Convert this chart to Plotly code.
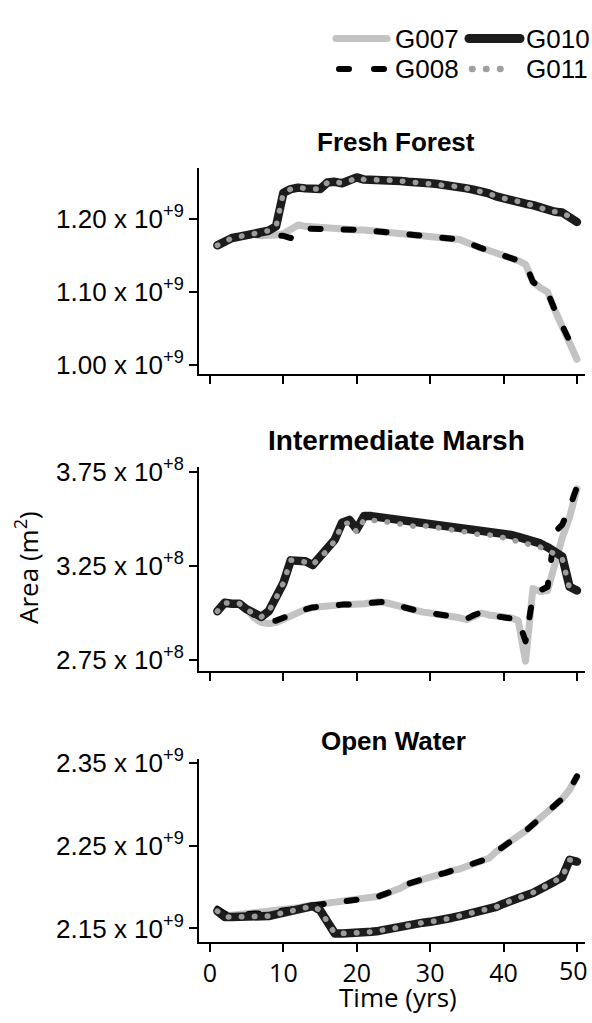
import plotly.graph_objects as go

# ---------------- data ----------------
years = list(range(1, 51))

# Fresh Forest (x 1e9 m2)
ff_g007 = [1.164,1.170,1.174,1.176,1.178,1.179,1.177,1.177,1.178,1.180,
           1.185,1.192,1.190,1.189,1.189,1.188,1.188,1.187,1.186,1.185,
           1.185,1.184,1.183,1.182,1.182,1.181,1.180,1.179,1.178,1.177,
           1.176,1.175,1.174,1.172,1.168,1.163,1.160,1.157,1.154,1.151,
           1.148,1.143,1.138,1.114,1.106,1.100,1.075,1.052,1.030,1.008]
ff_g008 = [1.164,1.170,1.174,1.176,1.178,1.179,1.178,1.178,1.178,1.177,
           1.174,1.184,1.187,1.187,1.187,1.187,1.187,1.186,1.186,1.185,
           1.185,1.184,1.183,1.182,1.182,1.181,1.180,1.179,1.178,1.177,
           1.176,1.175,1.174,1.172,1.168,1.163,1.160,1.157,1.154,1.151,
           1.148,1.143,1.138,1.114,1.106,1.100,1.075,1.053,1.033,1.016]
ff_g010 = [1.164,1.170,1.174,1.176,1.178,1.180,1.182,1.184,1.190,1.236,
           1.241,1.243,1.242,1.241,1.241,1.250,1.251,1.249,1.252,1.257,
           1.254,1.254,1.253,1.253,1.253,1.252,1.251,1.251,1.250,1.249,
           1.248,1.247,1.246,1.244,1.242,1.240,1.238,1.235,1.231,1.228,
           1.226,1.224,1.221,1.219,1.216,1.211,1.210,1.209,1.203,1.196]
ff_g011 = list(ff_g010)

# Intermediate Marsh (x 1e8 m2)
im_g007 = [3.01,3.05,3.05,3.05,3.02,2.975,2.95,2.945,2.95,2.97,
           2.99,3.01,3.02,3.03,3.035,3.04,3.04,3.045,3.045,3.045,
           3.05,3.055,3.06,3.055,3.045,3.035,3.02,3.01,3.005,3.0,
           2.995,2.99,2.985,2.975,2.965,2.985,3.0,2.99,2.985,2.98,
           2.975,2.96,2.745,3.13,3.115,3.12,3.27,3.40,3.51,3.66]
im_g008 = [3.01,3.05,3.05,3.05,3.02,2.99,2.975,2.96,2.96,2.975,
           2.995,3.01,3.02,3.03,3.035,3.04,3.045,3.045,3.045,3.045,
           3.05,3.055,3.06,3.06,3.045,3.035,3.02,3.01,3.005,3.0,
           2.995,2.99,2.985,2.975,2.97,2.99,3.005,2.99,2.985,2.98,
           2.975,2.965,2.85,3.09,3.12,3.14,3.43,3.47,3.56,3.67]
im_g010 = [3.01,3.055,3.05,3.05,3.02,2.995,2.98,3.01,3.08,3.16,
           3.28,3.28,3.275,3.255,3.30,3.33,3.39,3.48,3.495,3.445,
           3.515,3.515,3.51,3.505,3.50,3.495,3.485,3.48,3.485,3.48,
           3.475,3.47,3.46,3.455,3.45,3.44,3.44,3.435,3.43,3.42,
           3.415,3.405,3.395,3.385,3.37,3.35,3.33,3.30,3.14,3.12]
im_g011 = [3.01,3.055,3.05,3.05,3.02,2.995,2.98,3.01,3.08,3.16,
           3.28,3.28,3.27,3.255,3.30,3.33,3.385,3.47,3.48,3.43,
           3.495,3.495,3.49,3.485,3.48,3.475,3.465,3.46,3.465,3.46,
           3.455,3.45,3.44,3.435,3.43,3.42,3.42,3.415,3.41,3.40,
           3.395,3.385,3.375,3.365,3.35,3.33,3.315,3.29,3.13,3.115]

# Open Water (x 1e9 m2)
ow_g007 = [2.171,2.166,2.166,2.167,2.167,2.168,2.168,2.169,2.170,2.172,
           2.173,2.175,2.177,2.178,2.179,2.180,2.181,2.182,2.183,2.184,
           2.185,2.187,2.189,2.192,2.195,2.199,2.204,2.207,2.209,2.212,
           2.215,2.217,2.220,2.222,2.225,2.228,2.231,2.235,2.243,2.250,
           2.256,2.262,2.268,2.276,2.283,2.290,2.298,2.307,2.318,2.334]
ow_g008 = [2.174,2.168,2.166,2.167,2.167,2.168,2.168,2.169,2.170,2.172,
           2.173,2.175,2.177,2.178,2.179,2.180,2.181,2.182,2.183,2.184,
           2.185,2.187,2.189,2.192,2.195,2.199,2.204,2.207,2.209,2.212,
           2.215,2.217,2.220,2.222,2.225,2.228,2.231,2.235,2.243,2.250,
           2.256,2.262,2.268,2.276,2.283,2.290,2.298,2.307,2.318,2.334]
ow_g010 = [2.171,2.164,2.164,2.164,2.164,2.164,2.164,2.165,2.167,2.169,
           2.170,2.172,2.174,2.177,2.172,2.158,2.144,2.144,2.144,2.144,
           2.145,2.146,2.147,2.149,2.150,2.152,2.154,2.156,2.157,2.158,
           2.159,2.161,2.163,2.165,2.167,2.169,2.171,2.173,2.176,2.180,
           2.184,2.187,2.190,2.193,2.197,2.203,2.207,2.212,2.233,2.231]
ow_g011 = list(ow_g010)

panel_titles = ["Fresh Forest", "Intermediate Marsh", "Open Water"]
panel_scale = [1e9, 1e8, 1e9]
panel_ranges = [[0.988, 1.27], [2.693, 3.776], [2.133, 2.355]]
panel_tickvals = [[1.00, 1.10, 1.20], [2.75, 3.25, 3.75], [2.15, 2.25, 2.35]]
panel_ticktext = [
    ["1.00 x 10<sup>+9</sup>", "1.10 x 10<sup>+9</sup>", "1.20 x 10<sup>+9</sup>"],
    ["2.75 x 10<sup>+8</sup>", "3.25 x 10<sup>+8</sup>", "3.75 x 10<sup>+8</sup>"],
    ["2.15 x 10<sup>+9</sup>", "2.25 x 10<sup>+9</sup>", "2.35 x 10<sup>+9</sup>"],
]
x_tickvals = [0, 10, 20, 30, 40, 50]
x_ticktext = ["0", "10", "20", "30", "40", "50"]
series_names = ["G007", "G008", "G010", "G011"]
panel_data = [
    [ff_g007, ff_g008, ff_g010, ff_g011],
    [im_g007, im_g008, im_g010, im_g011],
    [ow_g007, ow_g008, ow_g010, ow_g011],
]

# ---------------- styles ----------------
W, H = 592, 1023
styles = {
    "G007": dict(color="#c3c3c3", width=7, dash="solid"),
    "G008": dict(color="#000000", width=6, dash="10px,23px"),
    "G010": dict(color="#1c1c1c", width=8.5, dash="solid"),
    "G011": dict(color="#9c9c9c", width=5.5, dash="0.5px,12.5px"),
}

def fx(p):
    return p / W

def fy(p):
    return 1 - p / H

panel_px = [(157, 367), (462, 670), (760, 947)]
title_px = [(396, 131, 26), (396, 435, 28), (393, 741, 26)]
xdom = [fx(199), fx(585)]
xfont = dict(family="Open Sans", size=25, color="black")

fig = go.Figure()
layout = dict(
    width=W, height=H,
    margin=dict(l=0, r=0, t=0, b=0),
    paper_bgcolor="white", plot_bgcolor="white",
    showlegend=False,
)
annotations = []
for i in range(3):
    n = i + 1
    xa = "x" if n == 1 else f"x{n}"
    ya = "y" if n == 1 else f"y{n}"
    for name, vals in zip(series_names, panel_data[i]):
        st = styles[name]
        fig.add_trace(go.Scatter(
            x=years, y=[v * panel_scale[i] for v in vals],
            mode="lines", name=name, xaxis=xa, yaxis=ya,
            line=dict(color=st["color"], width=st["width"], dash=st["dash"]),
            hoverinfo="skip",
        ))
    top, bot = panel_px[i]
    layout[f"xaxis{'' if n == 1 else n}"] = dict(
        domain=xdom, anchor=ya, range=[-1.5, 51.1],
        showline=True, linecolor="black", linewidth=2,
        ticks="outside", ticklen=8, tickwidth=2, tickcolor="black",
        tickvals=x_tickvals,
        # last label is placed as an annotation so that it stays inside the page
        ticktext=x_ticktext[:-1] + [""],
        showticklabels=(n == 3),
        tickfont=xfont,
        showgrid=False, zeroline=False,
    )
    layout[f"yaxis{'' if n == 1 else n}"] = dict(
        domain=[fy(bot), fy(top)], anchor=xa,
        range=[r * panel_scale[i] for r in panel_ranges[i]],
        showline=True, linecolor="black", linewidth=2,
        ticks="outside", ticklen=8, tickwidth=2, tickcolor="black",
        tickvals=[v * panel_scale[i] for v in panel_tickvals[i]],
        ticktext=panel_ticktext[i],
        tickfont=dict(family="Liberation Sans, Arial", size=26, color="black"),
        showgrid=False, zeroline=False,
    )
    tx, ty, ts = title_px[i]
    annotations.append(dict(
        text=f"<b>{panel_titles[i]}</b>", x=fx(tx), y=fy(ty),
        xref="paper", yref="paper", xanchor="center", yanchor="middle",
        showarrow=False,
        font=dict(family="Liberation Sans, Arial", size=ts, color="black"),
    ))

# last x tick label of the bottom panel, kept inside the page
annotations.append(dict(
    text=x_ticktext[-1], x=x_tickvals[-1], xref="x3", y=fy(975), yref="paper",
    xanchor="center", yanchor="middle", xshift=-3, showarrow=False, font=xfont,
    borderpad=0, borderwidth=0,
))

annotations.append(dict(
    text="Time (yrs)", x=fx(398), y=fy(1003), xref="paper", yref="paper",
    xanchor="center", yanchor="middle", showarrow=False,
    font=dict(family="Open Sans", size=26, color="black"),
))
annotations.append(dict(
    text="Area (m<sup>2</sup>)", x=fx(27), y=fy(565), xref="paper", yref="paper",
    xanchor="center", yanchor="middle", showarrow=False, textangle=-90,
    font=dict(family="Open Sans", size=26, color="black"),
))

# legend (manual, two rows)
legend_items = [
    ("G007", 336, 387, 25),
    ("G010", 469, 520, 25),
    ("G008", 339, 384, 56),
    ("G011", 472, 514, 56),
]
legend_style = {
    "G007": dict(color="#c3c3c3", width=7, dash="solid"),
    "G010": dict(color="#1c1c1c", width=9, dash="solid"),
    "G008": dict(color="#000000", width=6, dash="10px,25px"),
    "G011": dict(color="#a0a0a0", width=6.5, dash="0.5px,13.5px"),
}
shapes = []
for name, x0, x1, yy in legend_items:
    st = legend_style[name]
    shapes.append(dict(type="line", xref="paper", yref="paper",
                       x0=fx(x0), x1=fx(x1), y0=fy(yy), y1=fy(yy),
                       line=dict(color=st["color"], width=st["width"], dash=st["dash"])))
    tx = 393 if x0 < 400 else 524
    annotations.append(dict(
        text=name, x=fx(tx), y=fy(yy), xref="paper", yref="paper",
        xanchor="left", yanchor="middle", showarrow=False,
        font=dict(family="Liberation Sans, Arial", size=26, color="black"),
    ))

layout["annotations"] = annotations
layout["shapes"] = shapes
fig.update_layout(**layout)

post = """
document.body.style.margin = '0';
var gd = document.getElementById('{plot_id}');
gd.querySelectorAll('path.js-line, g.shapelayer path').forEach(function(p){
  p.style.strokeLinecap = 'round';
  p.style.strokeLinejoin = 'round';
});
"""
fig.write_html("out.html", config={"displayModeBar": False}, post_script=post)
